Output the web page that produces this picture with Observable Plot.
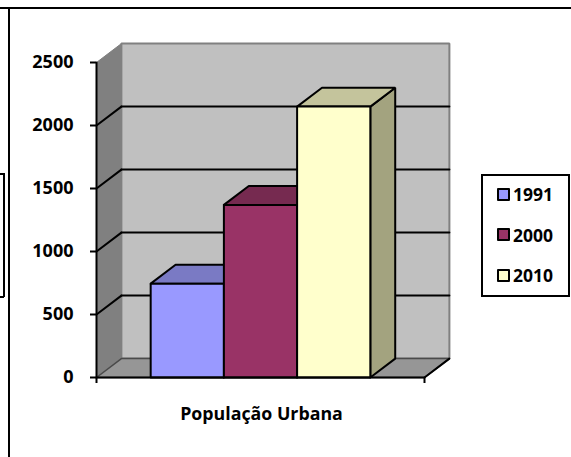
<!DOCTYPE html>
<html>
<head>
<meta charset="utf-8">
<script src="https://cdn.jsdelivr.net/npm/d3@7"></script>
<script src="https://cdn.jsdelivr.net/npm/@observablehq/plot@0.6"></script>
<style>
html,body{margin:0;padding:0;background:#fff;overflow:hidden}
#page{position:relative;width:571px;height:457px;overflow:hidden}
#page svg{position:absolute;left:0;top:0;background:transparent}
.ln{position:absolute;background:#000}
#legend{position:absolute;left:481px;top:174px;width:85px;height:119px;border:2px solid #000;background:#fff;
 font:bold 17.5px "Open Sans",sans-serif;color:#000}
#legend .row{position:absolute;left:14px;height:20px;line-height:20px;display:flex;align-items:center}
#legend .sw{width:9px;height:9px;border:2px solid #000;border-radius:1px;margin-right:3px}
</style>
</head>
<body>
<div id="page">
<div id="chart"></div>
<div class="ln" style="left:0;top:7px;width:571px;height:1.5px"></div>
<div class="ln" style="left:8px;top:7px;width:2px;height:450px"></div>
<div class="ln" style="left:3px;top:173px;width:1.5px;height:124px"></div>
<div class="ln" style="left:0;top:173px;width:4px;height:1.5px"></div>
<div class="ln" style="left:0;top:296px;width:4px;height:1.5px"></div>
<div id="legend"></div>
</div>
<script>
const years = ["1991", "2000", "2010"];
const values = [745, 1370, 2150];
const frontColors = ["#9999ff", "#993366", "#ffffcc"];
const topColors = ["#7a7ac4", "#762a50", "#c4c49c"];
const sideColors = ["#7a7ac4", "#762a50", "#a3a37f"];
const yTicks = [0, 500, 1000, 1500, 2000, 2500];
const gridValues = [500, 1000, 1500, 2000];
const categoryLabel = "População Urbana";

const xMin = -0.74, xMax = 3.74, yMax = 2500;
const depthX = 0.34, depthY = 150;

const poly = (pts, fill, stroke, strokeWidth) =>
  Plot.line([...pts, pts[0]], {x: d => d[0], y: d => d[1], fill, stroke, strokeWidth, strokeLinejoin: "miter"});
const seg = (a, b, stroke, strokeWidth) =>
  Plot.line([a, b], {x: d => d[0], y: d => d[1], stroke, strokeWidth});

const marks = [
  // back wall
  poly([[xMin+depthX,depthY],[xMax+depthX,depthY],[xMax+depthX,yMax+depthY],[xMin+depthX,yMax+depthY]], "#c0c0c0", "#808080", 2),
  // side wall
  poly([[xMin,0],[xMin+depthX,depthY],[xMin+depthX,yMax+depthY],[xMin,yMax]], "#808080", "#808080", 1),
  // floor
  poly([[xMin,0],[xMax,0],[xMax+depthX,depthY],[xMin+depthX,depthY]], "#969696", "#4a4a4a", 1.5),
  seg([xMax,0],[xMax+depthX,depthY], "#000", 2),
  // grid lines: diagonal on the side wall, horizontal on the back wall
  ...gridValues.flatMap(v => [
    seg([xMin,v],[xMin+depthX,v+depthY], "#000", 2),
    seg([xMin+depthX,v+depthY],[xMax+depthX,v+depthY], "#000", 2)
  ]),
  seg([xMin,0],[xMin,yMax], "#000", 2),
  // bars: back to front, left to right
  ...years.flatMap((yr, i) => {
    const x0 = i, x1 = i + 1, v = values[i];
    return [
      poly([[x1,0],[x1+depthX,depthY],[x1+depthX,v+depthY],[x1,v]], sideColors[i], "#000", 2),
      poly([[x0,v],[x1,v],[x1+depthX,v+depthY],[x0+depthX,v+depthY]], topColors[i], "#000", 2),
      poly([[x0,0],[x1,0],[x1,v],[x0,v]], frontColors[i], "#000", 2)
    ];
  }),
  seg([xMin,0],[xMax,0], "#000", 2),
  Plot.axisY(yTicks, {
    tickSize: 6, tickPadding: 17, label: null, strokeWidth: 2, stroke: "#000",
    fontWeight: "bold", fontSize: 18, fill: "#000", tickFormat: d => String(d), textStroke: "none"
  }),
  Plot.axisX([xMin, xMax], {
    tickSize: 6, label: null, strokeWidth: 2, stroke: "#000", tickFormat: () => ""
  }),
  Plot.text([categoryLabel], {
    x: () => (xMin + xMax) / 2, y: () => 0, dx: 1, dy: 37,
    text: d => d, fontWeight: "bold", fontSize: 17.8, fill: "#000"
  })
];

const chart = Plot.plot({
  width: 571, height: 457,
  marginLeft: 96, marginRight: 147, marginTop: 62, marginBottom: 80,
  x: {type: "linear", domain: [xMin, xMax], axis: null},
  y: {type: "linear", domain: [0, yMax], axis: null},
  style: {fontFamily: '"Open Sans", sans-serif', background: "transparent", overflow: "visible"},
  marks
});
document.getElementById("chart").appendChild(chart);

const legend = document.getElementById("legend");
years.forEach((yr, i) => {
  const row = document.createElement("div");
  row.className = "row";
  row.style.top = (8 + i * 40.5) + "px";
  const sw = document.createElement("span");
  sw.className = "sw";
  sw.style.background = frontColors[i];
  row.appendChild(sw);
  row.appendChild(document.createTextNode(yr));
  legend.appendChild(row);
});
</script>
</body>
</html>
